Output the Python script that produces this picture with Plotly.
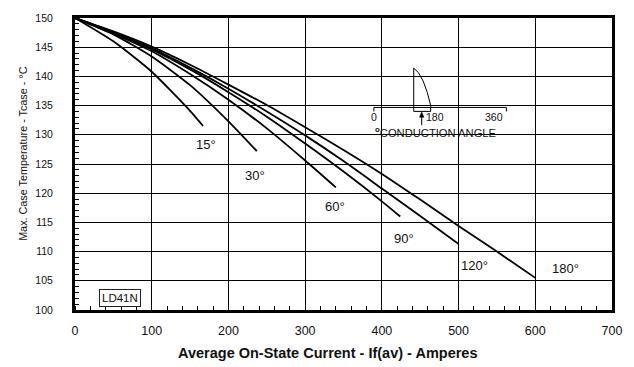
import plotly.graph_objects as go

# Case temperature derating curves, one per conduction angle
angles = ["15°", "30°", "60°", "90°", "120°", "180°"]

current_15 = [0, 50, 100, 150, 167]
tcase_15 = [150, 146.0, 140.8, 134.1, 131.5]

current_30 = [0, 50, 100, 150, 200, 237]
tcase_30 = [150, 147.2, 143.4, 138.5, 132.3, 127.2]

current_60 = [0, 50, 100, 150, 200, 250, 300, 340]
tcase_60 = [150, 147.3, 144.3, 140.4, 136.0, 131.1, 125.6, 121.0]

current_90 = [0, 50, 100, 150, 200, 250, 300, 350, 400, 424]
tcase_90 = [150, 147.5, 144.6, 141.2, 137.3, 133.1, 128.5, 123.7, 118.6, 116.0]

current_120 = [0, 50, 100, 150, 200, 250, 300, 350, 400, 450, 500]
tcase_120 = [150, 147.6, 144.8, 141.5, 137.9, 134.0, 129.9, 125.5, 120.8, 116.1, 111.3]

current_180 = [0, 50, 100, 150, 200, 250, 300, 350, 400, 450, 500, 550, 600]
tcase_180 = [150, 147.7, 145.1, 142.0, 138.6, 135.1, 131.3, 127.4, 123.3, 118.9, 114.4, 110.0, 105.5]

# Label position (current, temperature) for each curve
label_x = [171, 234, 339, 429, 521, 640]
label_y = [128.3, 123.1, 117.8, 112.2, 107.7, 107.1]

x_ticks = [0, 100, 200, 300, 400, 500, 600, 700]
y_ticks = [100, 105, 110, 115, 120, 125, 130, 135, 140, 145, 150]

series = [
    (current_15, tcase_15),
    (current_30, tcase_30),
    (current_60, tcase_60),
    (current_90, tcase_90),
    (current_120, tcase_120),
    (current_180, tcase_180),
]

NARROW = "Liberation Sans Narrow, Arial Narrow, Liberation Sans, Arial, sans-serif"
REGULAR = "Liberation Sans, Arial, sans-serif"
INK = "#111111"

fig = go.Figure()
for name, (xs, ys) in zip(angles, series):
    fig.add_trace(go.Scatter(
        x=xs, y=ys, mode="lines", name=name,
        line=dict(color="black", width=1.8, shape="spline", smoothing=0.6),
        showlegend=False, hoverinfo="skip",
    ))

# Curve labels
for name, lx, ly in zip(angles, label_x, label_y):
    fig.add_annotation(x=lx, y=ly, text=name, showarrow=False,
                       xanchor="center", yanchor="middle",
                       font=dict(family=REGULAR, size=13, color=INK))


# Helpers placing decorations by figure pixel position
def px(x):
    return (x - 75) / 539


def py(y):
    return (310 - y) / 297


def note(text, x, y, size, family=REGULAR, xanchor="center", **kw):
    fig.add_annotation(x=px(x), y=py(y), xref="paper", yref="paper", text=text,
                       showarrow=False, xanchor=xanchor, yanchor="middle",
                       font=dict(family=family, size=size, color=INK), **kw)


# Part number box
note("LD41N", 120.5, 297.5, 11.5, bgcolor="white", bordercolor="#222",
     borderwidth=1, borderpad=2)

# Axis titles
note("<b>Average On-State Current - If(av) - Amperes</b>", 328, 354, 14.5)
note("Max. Case Temperature - Tcase - °C", 22, 151, 10.8, family=NARROW, textangle=-90)

# Conduction angle inset: baseline, waveform, bracket and arrow
inset_line = dict(color="black", width=1)
shapes = [
    dict(type="line", x0=px(375), y0=py(104), x1=px(508), y1=py(104)),
    dict(type="line", x0=px(375), y0=py(104), x1=px(375), y1=py(108)),
    dict(type="line", x0=px(508), y0=py(104), x1=px(508), y1=py(108)),
    dict(type="line", x0=px(415), y0=py(64), x1=px(415), y1=py(108)),
    dict(type="line", x0=px(415), y0=py(108), x1=px(432), y1=py(108)),
    dict(type="line", x0=px(432), y0=py(104), x1=px(432), y1=py(108)),
    dict(type="path",
         path="M {} {} Q {} {} {} {}".format(
             px(415), py(64), px(425), py(70), px(432.5), py(104))),
    dict(type="line", x0=px(423), y0=py(112), x1=px(423), y1=py(122)),
]
for s in shapes:
    s.update(xref="paper", yref="paper", line=inset_line)
shapes.append(dict(
    type="path", xref="paper", yref="paper",
    path="M {} {} L {} {} L {} {} Z".format(
        px(423), py(108.5), px(420.8), py(114), px(425.2), py(114)),
    fillcolor="black", line=dict(color="black", width=0.5)))
fig.update_layout(shapes=shapes)

note("0", 375, 113.5, 10.5, family=NARROW)
note("180", 425.5, 113.5, 10.5, family=NARROW, xanchor="left")
note("360", 507, 113.5, 10.5, family=NARROW, xanchor="right")
note("<b><sup>o</sup></b>CONDUCTION ANGLE", 374, 128.5, 11.2, family=NARROW, xanchor="left")

fig.update_layout(
    width=634, height=367,
    margin=dict(l=75, r=20, t=13, b=57),
    paper_bgcolor="white", plot_bgcolor="white",
    xaxis=dict(
        range=[0, 700], tickvals=x_ticks, ticktext=[str(v) for v in x_ticks],
        showgrid=True, gridcolor="black", gridwidth=1,
        showline=True, linecolor="black", linewidth=3, mirror=True,
        ticks="", ticklabelstandoff=7, zeroline=False,
        minor=dict(ticks="inside", dtick=20, ticklen=4, tickcolor="black",
                   tickwidth=1, showgrid=False),
        tickfont=dict(family=REGULAR, size=12.5, color=INK),
    ),
    yaxis=dict(
        range=[100, 150], tickvals=y_ticks, ticktext=[str(v) for v in y_ticks],
        showgrid=True, gridcolor="black", gridwidth=1,
        showline=True, linecolor="black", linewidth=3, mirror=True,
        ticks="", ticklabelstandoff=17, zeroline=False,
        minor=dict(ticks="inside", dtick=1, ticklen=4, tickcolor="black",
                   tickwidth=1, showgrid=False),
        tickfont=dict(family=NARROW, size=10.5, color=INK),
    ),
)

fig.write_html("out.html")
